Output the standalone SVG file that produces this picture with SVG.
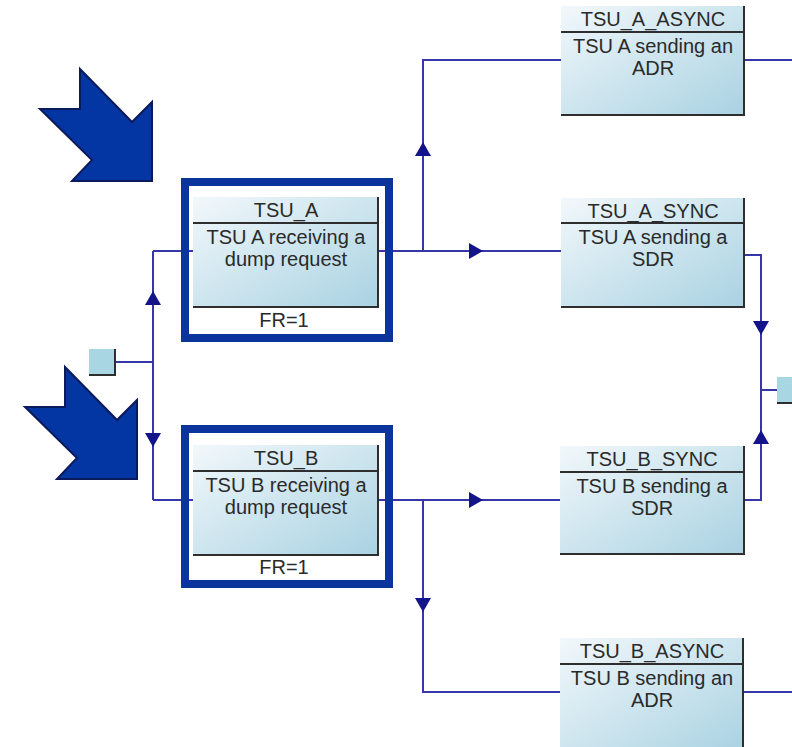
<svg xmlns="http://www.w3.org/2000/svg" width="792" height="747" viewBox="0 0 792 747">
<defs>
<linearGradient id="g" x1="0" y1="0" x2="1" y2="1">
<stop offset="0" stop-color="#f2f8fb"/>
<stop offset="1" stop-color="#a9d2e2"/>
</linearGradient>
<path id="ah" d="M0,0 L-14,-8 L-14,8 Z"/>
<style>
.box{fill:url(#g);stroke:none}
.edge{fill:none;stroke:#2e2e2e;stroke-width:2}
.t{font-family:"Liberation Sans",Arial,sans-serif;font-size:20px;fill:#2a2a2a;text-anchor:middle}
.frame{fill:none;stroke:#0b349c;stroke-width:8}
.c{fill:none;stroke:#3636a8;stroke-width:2}
.ah{fill:#14148a}
.big{fill:#0436a3;stroke:#0b1a5a;stroke-width:2;stroke-linejoin:miter}
.port{fill:#a8d6e2}
</style>
</defs>

<g id="bigarrows">
<polygon class="big" points="80,69 132,122 152,102 152,181 72,181 92,160 40,109 80,109"/>
<polygon class="big" points="65,367 117,420 137,400 137,479 57,479 77,458 25,407 65,407"/>
</g>

<g id="connectors">
<polyline class="c" points="115,362 153,362"/>
<polyline class="c" points="153,251 153,500"/>
<polyline class="c" points="153,251 193,251"/>
<polyline class="c" points="153,500 193,500"/>
<polyline class="c" points="378,251 561,251"/>
<polyline class="c" points="423,251 423,60 561,60"/>
<polyline class="c" points="744,60 792,60"/>
<polyline class="c" points="744,255 761,255 761,500 744,500"/>
<polyline class="c" points="761,390 777,390"/>
<polyline class="c" points="378,500 561,500"/>
<polyline class="c" points="423,500 423,692 560,692"/>
<polyline class="c" points="743,692 792,692"/>
<use href="#ah" class="ah" transform="translate(153,291) rotate(-90)"/>
<use href="#ah" class="ah" transform="translate(153,447) rotate(90)"/>
<use href="#ah" class="ah" transform="translate(483,251)"/>
<use href="#ah" class="ah" transform="translate(483,500)"/>
<use href="#ah" class="ah" transform="translate(423,142) rotate(-90)"/>
<use href="#ah" class="ah" transform="translate(423,612) rotate(90)"/>
<use href="#ah" class="ah" transform="translate(761,335) rotate(90)"/>
<use href="#ah" class="ah" transform="translate(761,430) rotate(-90)"/>
</g>

<g id="source">
<rect class="port" x="89" y="349" width="26" height="26"/>
<polyline class="edge" points="115,349 115,375 89,375" stroke-width="1.5"/>
</g>

<g id="sink">
<rect class="port" x="777" y="377" width="20" height="26"/>
<polyline class="edge" points="777,403 792,403" stroke-width="1.5"/>
</g>

<g id="TSU_A">
<rect class="frame" x="185" y="182" width="204" height="156"/>
<rect class="box" x="193" y="197" width="185" height="110"/>
<polyline class="edge" points="378,197 378,307 193,307"/>
<line class="edge" x1="193" y1="223" x2="378" y2="223"/>
<text class="t" x="286" y="217">TSU_A</text>
<text class="t" x="286" y="244">TSU A receiving a</text>
<text class="t" x="286" y="266">dump request</text>
<text class="t" x="284" y="327">FR=1</text>
</g>

<g id="TSU_B">
<rect class="frame" x="185" y="429" width="204" height="155"/>
<rect class="box" x="193" y="445" width="185" height="110"/>
<polyline class="edge" points="378,445 378,555 193,555"/>
<line class="edge" x1="193" y1="471" x2="378" y2="471"/>
<text class="t" x="286" y="465">TSU_B</text>
<text class="t" x="286" y="492">TSU B receiving a</text>
<text class="t" x="286" y="514">dump request</text>
<text class="t" x="284" y="574">FR=1</text>
</g>

<g id="TSU_A_ASYNC">
<rect class="box" x="561" y="6" width="183" height="109"/>
<polyline class="edge" points="744,6 744,115 561,115"/>
<line class="edge" x1="561" y1="32" x2="744" y2="32"/>
<text class="t" x="653" y="26">TSU_A_ASYNC</text>
<text class="t" x="653" y="53">TSU A sending an</text>
<text class="t" x="653" y="75">ADR</text>
</g>

<g id="TSU_A_SYNC">
<rect class="box" x="561" y="198" width="183" height="109"/>
<polyline class="edge" points="744,198 744,307 561,307"/>
<line class="edge" x1="561" y1="223" x2="744" y2="223"/>
<text class="t" x="653" y="218">TSU_A_SYNC</text>
<text class="t" x="653" y="244">TSU A sending a</text>
<text class="t" x="653" y="266">SDR</text>
</g>

<g id="TSU_B_SYNC">
<rect class="box" x="560" y="446" width="184" height="108"/>
<polyline class="edge" points="744,446 744,554 560,554"/>
<line class="edge" x1="560" y1="472" x2="744" y2="472"/>
<text class="t" x="652" y="466">TSU_B_SYNC</text>
<text class="t" x="652" y="493">TSU B sending a</text>
<text class="t" x="652" y="515">SDR</text>
</g>

<g id="TSU_B_ASYNC">
<rect class="box" x="560" y="638" width="183" height="115"/>
<polyline class="edge" points="743,638 743,750"/>
<line class="edge" x1="560" y1="664" x2="743" y2="664"/>
<text class="t" x="652" y="658">TSU_B_ASYNC</text>
<text class="t" x="652" y="685">TSU B sending an</text>
<text class="t" x="652" y="707">ADR</text>
</g>
</svg>
